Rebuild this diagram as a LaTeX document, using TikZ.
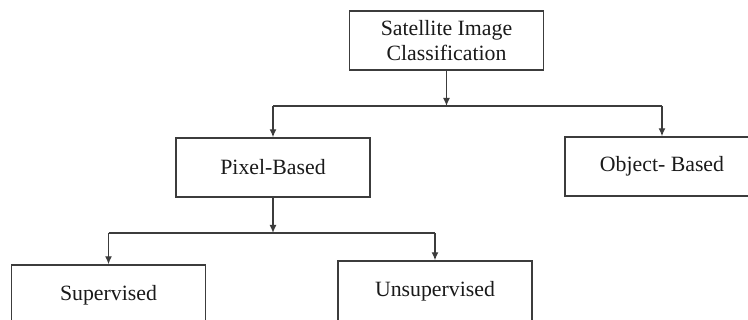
\documentclass[tikz,border=0pt]{standalone}
\usepackage{fontspec}
\setmainfont{Liberation Serif}
\usetikzlibrary{arrows.meta}
\definecolor{ln}{HTML}{3C3C3C}
\definecolor{tx}{HTML}{1A1A1A}
\tikzset{
  box/.style={draw=ln, line width=1.4pt, minimum width=194pt, minimum height=59pt, inner sep=0pt, align=center, text=tx, font=\fontsize{21.8}{25.5}\selectfont},
  conn/.style={draw=ln, line width=1.4pt},
  arr/.style={conn, -{Latex[length=8pt,width=7pt]}}
}
\begin{document}
\begin{tikzpicture}[x=1pt,y=-1pt]
\useasboundingbox (0,0) rectangle (748,320);
\clip (0,0) rectangle (748,320);
\fill[white] (0,0) rectangle (748,320);
\node[box] (top) at (446.5,40.5) {Satellite Image\\Classification};
\node[box] (pix) at (273,167.5) {Pixel-Based};
\node[box] (obj) at (662,166.5) {Object- Based};
\node[box, minimum height=60pt] (sup) at (108.5,295) {Supervised};
\node[box, minimum height=60pt] (uns) at (435,291) {Unsupervised};
\coordinate (j1) at (446.5,106);
\coordinate (j2) at (273,233);
\draw[arr] (top.south) -- (j1);
\draw[conn] (pix.north |- j1) -- (obj.north |- j1);
\draw[arr] (pix.north |- j1) -- (pix.north);
\draw[arr] (obj.north |- j1) -- (obj.north);
\draw[arr] (pix.south) -- (j2);
\draw[conn] (sup.north |- j2) -- (uns.north |- j2);
\draw[arr] (sup.north |- j2) -- (sup.north);
\draw[arr] (uns.north |- j2) -- (uns.north);
\end{tikzpicture}
\end{document}
